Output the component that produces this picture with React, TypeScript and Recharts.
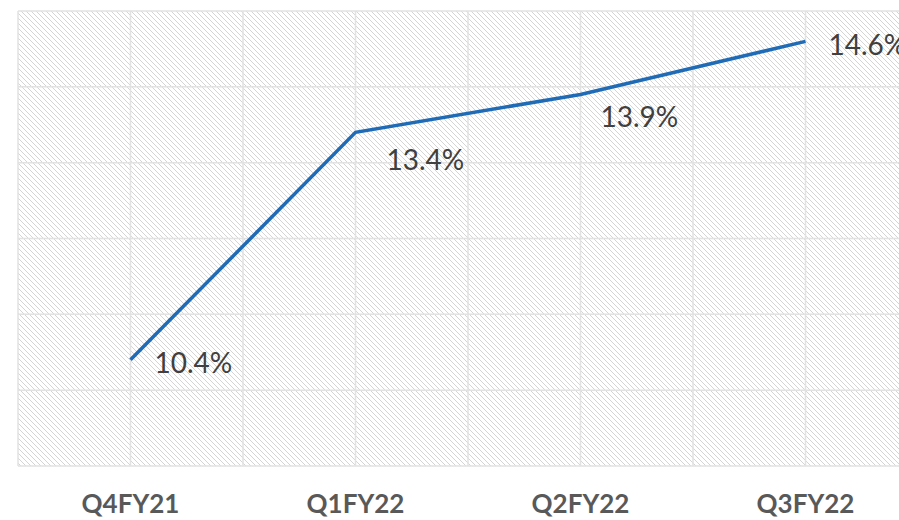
import { LineChart, Line, XAxis, YAxis, CartesianGrid, LabelList } from "recharts";

const quarters = ["Q4FY21", "Q1FY22", "Q2FY22", "Q3FY22"];
const marginPct = [10.4, 13.4, 13.9, 14.6];
const yTicks = [9, 10, 11, 12, 13, 14, 15];

// label placement relative to each point (dx, dy)
const labelOffsets = [
  [24, 2],
  [31, 27],
  [20, 22],
  [23, 3],
];

const data = quarters.map((q, i) => ({ quarter: q, value: marginPct[i] }));

const PointLabel = (props: any) => {
  const { x, y, index, value } = props;
  const [dx, dy] = labelOffsets[index] || [0, 0];
  return (
    <text
      x={x + dx}
      y={y + dy}
      textAnchor="start"
      dominantBaseline="central"
      fontFamily="Lato, sans-serif"
      fontSize={28}
      fill="#404040"
    >
      {value.toFixed(1)}%
    </text>
  );
};

const QuarterTick = (props: any) => {
  const { x, y, payload } = props;
  return (
    <text
      x={x}
      y={y + 29}
      textAnchor="middle"
      dominantBaseline="central"
      fontFamily="Lato, sans-serif"
      fontWeight="bold"
      fontSize={26}
      fill="#595959"
    >
      {payload.value}
    </text>
  );
};

// grid lines on category edges and centres
const verticalLines = ({ offset }: any) => {
  const band = offset.width / quarters.length;
  const pts: number[] = [];
  for (let i = 0; i <= quarters.length * 2; i++) pts.push(offset.left + (band / 2) * i);
  return pts;
};

const hatchPixels = [0, 1, 2, 3, 4];

export default function App() {
  return (
    <div
      style={{
        position: "fixed",
        left: 0,
        top: 0,
        width: 899,
        height: 520,
        overflow: "hidden",
        background: "#fff",
      }}
    >
      <LineChart
        width={920}
        height={520}
        data={data}
        margin={{ top: 11, right: 2, bottom: 24, left: 18 }}
      >
        <defs>
          <pattern id="hatch" width="5" height="5" patternUnits="userSpaceOnUse">
            <rect width="5" height="5" fill="#ffffff" />
            {hatchPixels.map((i) => (
              <rect key={i} x={i} y={i} width={1} height={1} fill="#d4d4d4" />
            ))}
          </pattern>
        </defs>
        <CartesianGrid
          fill="url(#hatch)"
          stroke="#e2e2e2"
          strokeWidth={1.5}
          verticalCoordinatesGenerator={verticalLines}
        />
        <XAxis
          dataKey="quarter"
          scale="band"
          height={30}
          axisLine={false}
          tickLine={false}
          tick={<QuarterTick />}
          interval={0}
        />
        <YAxis hide domain={[9, 15]} ticks={yTicks} type="number" />
        <Line
          type="linear"
          dataKey="value"
          stroke="#1f6bb6"
          strokeWidth={3.5}
          dot={false}
          isAnimationActive={false}
        >
          <LabelList dataKey="value" content={<PointLabel />} />
        </Line>
      </LineChart>
    </div>
  );
}
